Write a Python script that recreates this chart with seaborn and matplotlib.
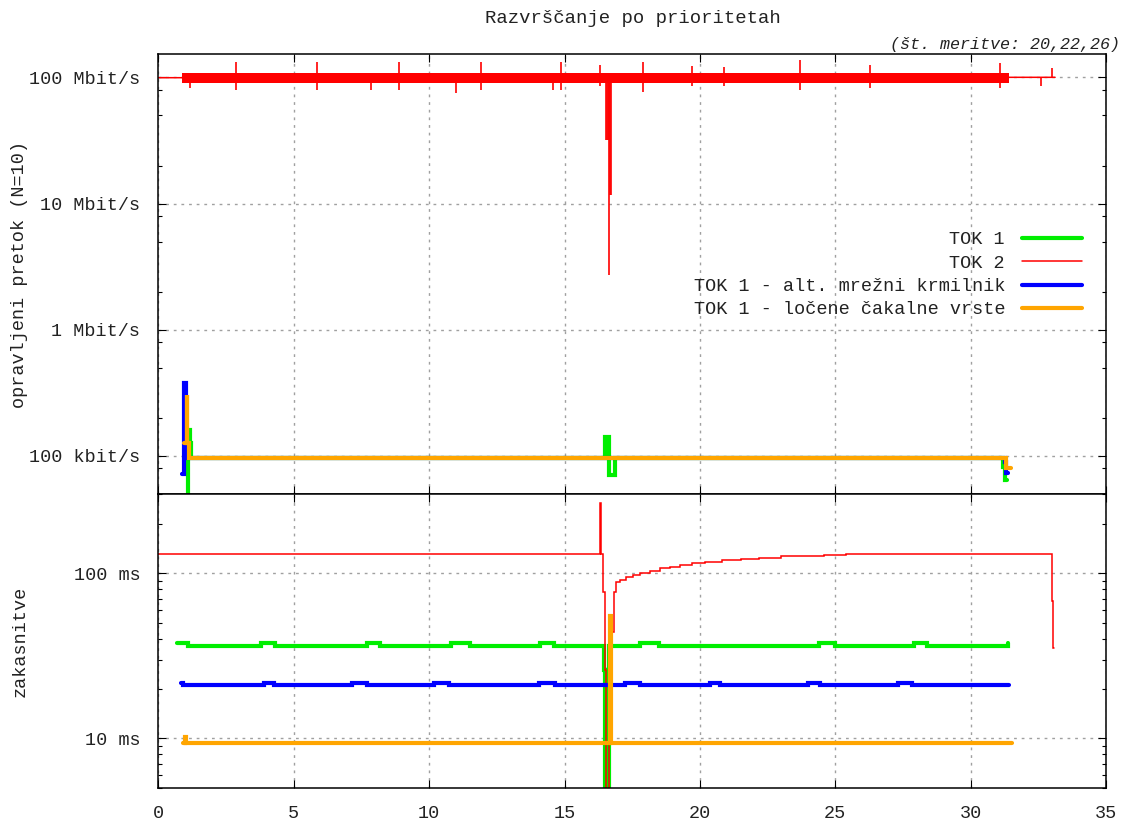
import matplotlib
matplotlib.use("Agg")
import matplotlib.pyplot as plt
from matplotlib.lines import Line2D
from matplotlib.ticker import FixedLocator, NullFormatter
import seaborn as sns

# ---------------- data ----------------
# TOK 2 throughput [Mbit/s]: base trace, envelope of the dense samples,
# isolated spikes and the collapse around 16.6 s
tok2_base_t = [0.0, 0.88, 31.40, 33.12]
tok2_base_v = [99.3, 99.3, 100.0, 100.0]
tok2_band_t = [0.88, 31.40]
tok2_band_lo = [89.8, 89.8]
tok2_band_hi = [108.5, 108.5]
tok2_spike_t = [1.15, 2.86, 5.86, 7.84, 8.89, 10.99, 11.91, 14.57, 14.88,
                16.30, 17.90, 19.70, 20.90, 23.70, 26.30, 31.10, 32.60, 33.00]
tok2_spike_lo = [82.0, 79.3, 79.3, 79.3, 79.3, 75.5, 79.3, 79.3, 79.3,
                 85.0, 77.0, 86.0, 85.0, 80.0, 82.0, 82.0, 86.0, 100.0]
tok2_spike_hi = [100.0, 132.9, 132.9, 100.0, 132.9, 100.0, 132.9, 100.0, 132.9,
                 125.0, 132.9, 124.0, 120.0, 136.0, 125.0, 130.0, 100.0, 118.0]
tok2_drop_t = [16.54, 16.57, 16.60, 16.63, 16.65, 16.68, 16.71]
tok2_drop_lo = [31.6, 31.6, 31.6, 31.6, 2.7, 11.6, 11.6]

# TOK 1 throughput variants [kbit/s]
tok1_rate_t = [0.96, 1.10, 1.17, 1.20, 16.50, 16.65, 16.85, 31.21, 31.27, 31.33]
tok1_rate_v = [45.0, 161.0, 127.0, 96.0, 142.0, 70.7, 96.0, 81.8, 64.5, 64.5]
tok1_alt_rate_t = [0.88, 0.95, 1.00, 31.26, 31.32, 31.38]
tok1_alt_rate_v = [72.0, 379.0, 96.0, 90.1, 72.9, 72.9]
tok1_sep_rate_t = [0.95, 1.05, 1.07, 1.12, 31.30, 31.50]
tok1_sep_rate_v = [127.0, 304.0, 127.0, 96.0, 80.3, 80.3]

# delays [ms]
tok1_delay_t = [0.67, 1.10, 3.80, 4.30, 7.70, 8.20, 10.80, 11.50, 14.10, 14.60,
                16.46, 16.49, 16.52, 16.55, 16.58, 16.61, 16.64,
                17.80, 18.50, 24.40, 25.00, 27.90, 28.40, 31.38]
tok1_delay_v = [37.6, 36.4, 37.6, 36.4, 37.6, 36.4, 37.6, 36.4, 37.6, 36.4,
                25.9, 4.0, 25.9, 4.0, 25.9, 4.0, 36.4,
                37.6, 36.4, 37.6, 36.4, 37.6, 36.4, 37.6]
tok2_delay_t = [0.0, 16.32, 16.34, 16.42, 16.48, 16.54, 16.64, 16.73, 16.81, 16.89,
                17.04, 17.28, 17.53, 17.78, 18.15, 18.52, 18.89, 19.26, 19.70, 20.20,
                20.80, 21.50, 22.20, 23.00, 23.80, 24.60, 25.40, 33.00, 33.06, 33.08]
tok2_delay_v = [130.3, 266.7, 130.3, 77.4, 25.9, 4.0, 12.4, 44.3, 77.4, 88.9,
                91.1, 94.6, 97.7, 100.0, 103.7, 107.2, 109.6, 112.3, 115.0, 117.5,
                120.0, 122.5, 124.5, 126.5, 128.0, 129.3, 130.3, 67.9, 35.1, 35.1]
tok1_alt_delay_t = [0.85, 0.90, 3.89, 4.26, 7.15, 7.70, 10.19, 10.74, 14.07, 14.63,
                    17.22, 17.78, 20.37, 20.74, 24.00, 24.44, 27.33, 27.85, 31.40]
tok1_alt_delay_v = [21.6, 21.0, 21.6, 21.0, 21.6, 21.0, 21.6, 21.0, 21.6, 21.0,
                    21.6, 21.0, 21.6, 21.0, 21.6, 21.0, 21.6, 21.0, 21.0]
tok1_sep_delay_t = [0.90, 0.97, 1.02, 16.68, 16.72, 31.52]
tok1_sep_delay_v = [9.32, 10.2, 9.32, 55.0, 9.32, 9.32]

rate_ticks = [1e5, 1e6, 1e7, 1e8]
rate_labels = ["100 kbit/s", "1 Mbit/s", "10 Mbit/s", "100 Mbit/s"]
delay_ticks = [10, 100]
delay_labels = ["10 ms", "100 ms"]
x_ticks = [0, 5, 10, 15, 20, 25, 30, 35]

series_names = ["TOK 1", "TOK 2", "TOK 1 - alt. mrežni krmilnik",
                "TOK 1 - ločene čakalne vrste"]
series_colors = ["#00ee00", "#ff0000", "#0000ff", "#ffa500"]

# ---------------- style ----------------
sns.set_style("ticks")
FONT = ["Liberation Mono", "DejaVu Sans Mono"]
plt.rcParams["font.family"] = FONT
plt.rcParams["font.size"] = 13.3
plt.rcParams["text.color"] = "#222222"

GREEN, RED, BLUE, ORANGE = series_colors
THICK = 3.0
THIN = 1.1

fig = plt.figure(figsize=(11.24, 8.21), dpi=100)
ax_top = fig.add_axes([0.1410, 0.39830, 0.8430, 0.53593])
ax_bot = fig.add_axes([0.1410, 0.04019, 0.8430, 0.35811], sharex=ax_top)

K = 1e3   # kbit/s -> bit/s
M = 1e6   # Mbit/s -> bit/s

def steps(ax, t, v, color, lw, scale=1.0):
    sns.lineplot(x=t, y=[val * scale for val in v], ax=ax, color=color,
                 linewidth=lw, drawstyle="steps-post", estimator=None,
                 sort=False, solid_joinstyle="miter")

# ---- throughput panel ----
steps(ax_top, tok1_rate_t, tok1_rate_v, GREEN, THICK, K)
sns.lineplot(x=tok2_base_t, y=[v * M for v in tok2_base_v], ax=ax_top,
             color=RED, linewidth=THIN, estimator=None, sort=False)
ax_top.fill_between(tok2_band_t, [v * M for v in tok2_band_lo],
                    [v * M for v in tok2_band_hi], color=RED, linewidth=0)
ax_top.vlines(tok2_spike_t, [v * M for v in tok2_spike_lo],
              [v * M for v in tok2_spike_hi], color=RED, linewidth=1.2)
ax_top.vlines(tok2_drop_t, [v * M for v in tok2_drop_lo],
              [100 * M] * len(tok2_drop_t), color=RED, linewidth=1.2)
steps(ax_top, tok1_alt_rate_t, tok1_alt_rate_v, BLUE, THICK, K)
steps(ax_top, tok1_sep_rate_t, tok1_sep_rate_v, ORANGE, THICK, K)

# ---- delay panel ----
steps(ax_bot, tok1_delay_t, tok1_delay_v, GREEN, THICK)
steps(ax_bot, tok2_delay_t, tok2_delay_v, RED, THIN)
steps(ax_bot, tok1_alt_delay_t, tok1_alt_delay_v, BLUE, THICK)
steps(ax_bot, tok1_sep_delay_t, tok1_sep_delay_v, ORANGE, THICK)

# ---- axes ----
grid_kw = dict(color="#a0a0a0", linestyle=(0, (2.0, 3.5)), linewidth=1.0)
for ax in (ax_top, ax_bot):
    ax.set_yscale("log")
    ax.set_xlim(0, 35)
    ax.xaxis.set_major_locator(FixedLocator(x_ticks))
    ax.tick_params(which="both", direction="in", top=True, right=True,
                   width=0.8, color="black", labelsize=13.3,
                   labelcolor="#222222")
    ax.tick_params(which="major", length=5.8, pad=13)
    ax.tick_params(which="minor", length=2.9)
    ax.grid(True, which="major", **grid_kw)
    ax.set_axisbelow(True)
    for sp in ax.spines.values():
        sp.set_linewidth(1.1)
        sp.set_color("black")
    ax.set_xlabel("")
    ax.set_ylabel("")

ax_top.set_ylim(5.0e4, 1.53e8)
ax_top.yaxis.set_major_locator(FixedLocator(rate_ticks))
ax_top.set_yticklabels(rate_labels)
minor_rate = [m * d for d in (1e4, 1e5, 1e6, 1e7) for m in (2, 5, 8)]
ax_top.yaxis.set_minor_locator(FixedLocator(minor_rate))
ax_top.yaxis.set_minor_formatter(NullFormatter())
ax_top.tick_params(axis="x", labelbottom=False)

ax_bot.set_ylim(5.0, 302)
ax_bot.yaxis.set_major_locator(FixedLocator(delay_ticks))
ax_bot.set_yticklabels(delay_labels)
minor_delay = [m * d for d in (1, 10, 100) for m in range(2, 10)]
ax_bot.yaxis.set_minor_locator(FixedLocator(minor_delay))
ax_bot.yaxis.set_minor_formatter(NullFormatter())
ax_bot.set_xticklabels([str(x) for x in x_ticks])
ax_bot.tick_params(axis="x", pad=12)

# ---- legend ----
handles = [Line2D([], [], color=c, linewidth=(THIN if c == RED else THICK))
           for c in series_colors]
ax_top.legend(handles, series_names, loc="upper right",
              bbox_to_anchor=(0.9747, 0.5966), frameon=False,
              markerfirst=False, handlelength=3.25, handletextpad=0.92,
              labelspacing=0.34, borderpad=0, borderaxespad=0,
              prop={"family": FONT, "size": 13.3})

# ---- texts ----
fig.text(0.5630, 0.978, "Razvrščanje po prioritetah", ha="center",
         va="center", fontsize=13.6, family=FONT)
fig.text(0.9964, 0.9464, "(št. meritve: 20,22,26)", ha="right", va="center",
         fontsize=12.1, style="italic", family=FONT)
fig.text(20 / 1124, 1 - 274 / 821, "opravljeni pretok (N=10)", rotation=90,
         ha="center", va="center", fontsize=13.3, family=FONT)
fig.text(20 / 1124, 1 - 641 / 821, "zakasnitve", rotation=90,
         ha="center", va="center", fontsize=13.3, family=FONT)

fig.savefig("out.png", dpi=100)
